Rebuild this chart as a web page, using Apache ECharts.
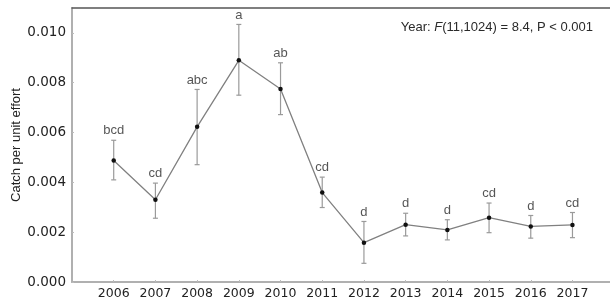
<!DOCTYPE html>
<html>
<head>
<meta charset="utf-8">
<script src="https://cdn.jsdelivr.net/npm/echarts@6/dist/echarts.min.js"></script>
<style>
	html, body { margin: 0; padding: 0; background: #fff; }
	#main { width: 610px; height: 301px; }
</style>
</head>
<body>
<div id="main"></div>
<script>
// values
var years = [2006, 2007, 2008, 2009, 2010, 2011, 2012, 2013, 2014, 2015, 2016, 2017];
var means = [0.00488, 0.0033, 0.00623, 0.0089, 0.00775, 0.00359, 0.00158, 0.0023, 0.00209, 0.00258, 0.00223, 0.00229];
var lower = [0.0041, 0.00256, 0.00471, 0.0075, 0.00672, 0.00299, 0.00075, 0.00185, 0.00169, 0.00198, 0.00176, 0.00178];
var upper = [0.00569, 0.00397, 0.00773, 0.01034, 0.0088, 0.00421, 0.00243, 0.00276, 0.0025, 0.00317, 0.00267, 0.00279];
var letters = ['bcd', 'cd', 'abc', 'a', 'ab', 'cd', 'd', 'd', 'd', 'cd', 'd', 'cd'];
var yTicks = [0, 0.002, 0.004, 0.006, 0.008, 0.010];

function drawChart() {
	var chartDom = document.getElementById('main');
	var myChart = echarts.init(chartDom);
	var option;

	var lineData = years.map(function (y, i) { return [y, means[i]]; });
	var barData = years.map(function (y, i) { return [y, lower[i], upper[i]]; });
	var letterData = years.map(function (y, i) {
		return { value: [y, upper[i]], letter: letters[i] };
	});

	option = {
		animation: false,
		textStyle: { fontFamily: 'Liberation Sans' },
		title: {
			text: 'Year: {i|F}(11,1024) = 8.4, P < 0.001',
			right: 12,
			top: 16,
			textStyle: {
				fontSize: 13,
				fontWeight: 'normal',
				color: '#2a2a2a',
				fontFamily: 'Liberation Sans',
				rich: {
					i: { fontStyle: 'italic', fontSize: 13, color: '#2a2a2a', fontFamily: 'Liberation Sans' }
				}
			}
		},
		grid: {
			left: 72,
			right: 0,
			top: 8,
			bottom: 19,
			containLabel: false,
			outerBoundsMode: 'none'
		},
		xAxis: [
			{
				type: 'value',
				min: 2005,
				max: 2017.9,
				interval: 1,
				axisLine: { lineStyle: { color: '#b0b0b0', width: 2 } },
				axisTick: { inside: true, length: 2, lineStyle: { color: '#bbb' } },
				splitLine: { show: false },
				axisLabel: {
					margin: 5,
					fontFamily: 'DejaVu Sans',
					fontSize: 12.5,
					color: '#222',
					showMinLabel: false,
					showMaxLabel: false,
					formatter: function (v) {
						return years.indexOf(v) >= 0 ? String(v) : '';
					}
				}
			},
			{
				type: 'value',
				position: 'top',
				min: 2005,
				max: 2017.9,
				axisLine: { show: true, lineStyle: { color: '#555', width: 1.5 } },
				axisTick: { show: false },
				axisLabel: { show: false },
				splitLine: { show: false }
			}
		],
		yAxis: {
			type: 'value',
			min: 0,
			max: 0.011,
			interval: 0.002,
			name: 'Catch per unit effort',
			nameLocation: 'middle',
			nameGap: 49,
			nameMoveOverlap: false,
			nameTextStyle: { fontSize: 13, color: '#222', fontFamily: 'Liberation Sans' },
			axisLine: { show: true, lineStyle: { color: '#b0b0b0', width: 2 } },
			axisTick: { show: true, inside: true, length: 2, lineStyle: { color: '#bbb' } },
			splitLine: { show: false },
			axisLabel: {
				margin: 6,
				fontFamily: 'DejaVu Sans',
				fontSize: 13.5,
				color: '#222',
				showMaxLabel: false,
				formatter: function (v) {
					for (var k = 0; k < yTicks.length; k++) {
						if (Math.abs(yTicks[k] - v) < 1e-9) return yTicks[k].toFixed(3);
					}
					return '';
				}
			}
		},
		series: [
			{
				// error bars
				type: 'custom',
				data: barData,
				z: 2,
				renderItem: function (params, api) {
					var x = api.value(0);
					var lo = api.coord([x, api.value(1)]);
					var hi = api.coord([x, api.value(2)]);
					var cap = 2.5;
					var style = { stroke: '#9a9a9a', lineWidth: 1.2 };
					return {
						type: 'group',
						children: [
							{ type: 'line', shape: { x1: lo[0], y1: lo[1], x2: hi[0], y2: hi[1] }, style: style },
							{ type: 'line', shape: { x1: hi[0] - cap, y1: hi[1], x2: hi[0] + cap, y2: hi[1] }, style: style },
							{ type: 'line', shape: { x1: lo[0] - cap, y1: lo[1], x2: lo[0] + cap, y2: lo[1] }, style: style }
						]
					};
				}
			},
			{
				type: 'line',
				data: lineData,
				z: 3,
				symbol: 'circle',
				symbolSize: 4.5,
				lineStyle: { color: '#808080', width: 1.3 },
				itemStyle: { color: '#111' }
			},
			{
				// significance letters
				type: 'scatter',
				data: letterData,
				symbolSize: 0,
				z: 4,
				label: {
					show: true,
					position: 'top',
					distance: 3,
					fontSize: 13,
					color: '#2a2a2a',
					fontFamily: 'Liberation Sans',
					formatter: function (p) { return p.data.letter; }
				}
			}
		]
	};

	option && myChart.setOption(option);
}

drawChart();
</script>
</body>
</html>
